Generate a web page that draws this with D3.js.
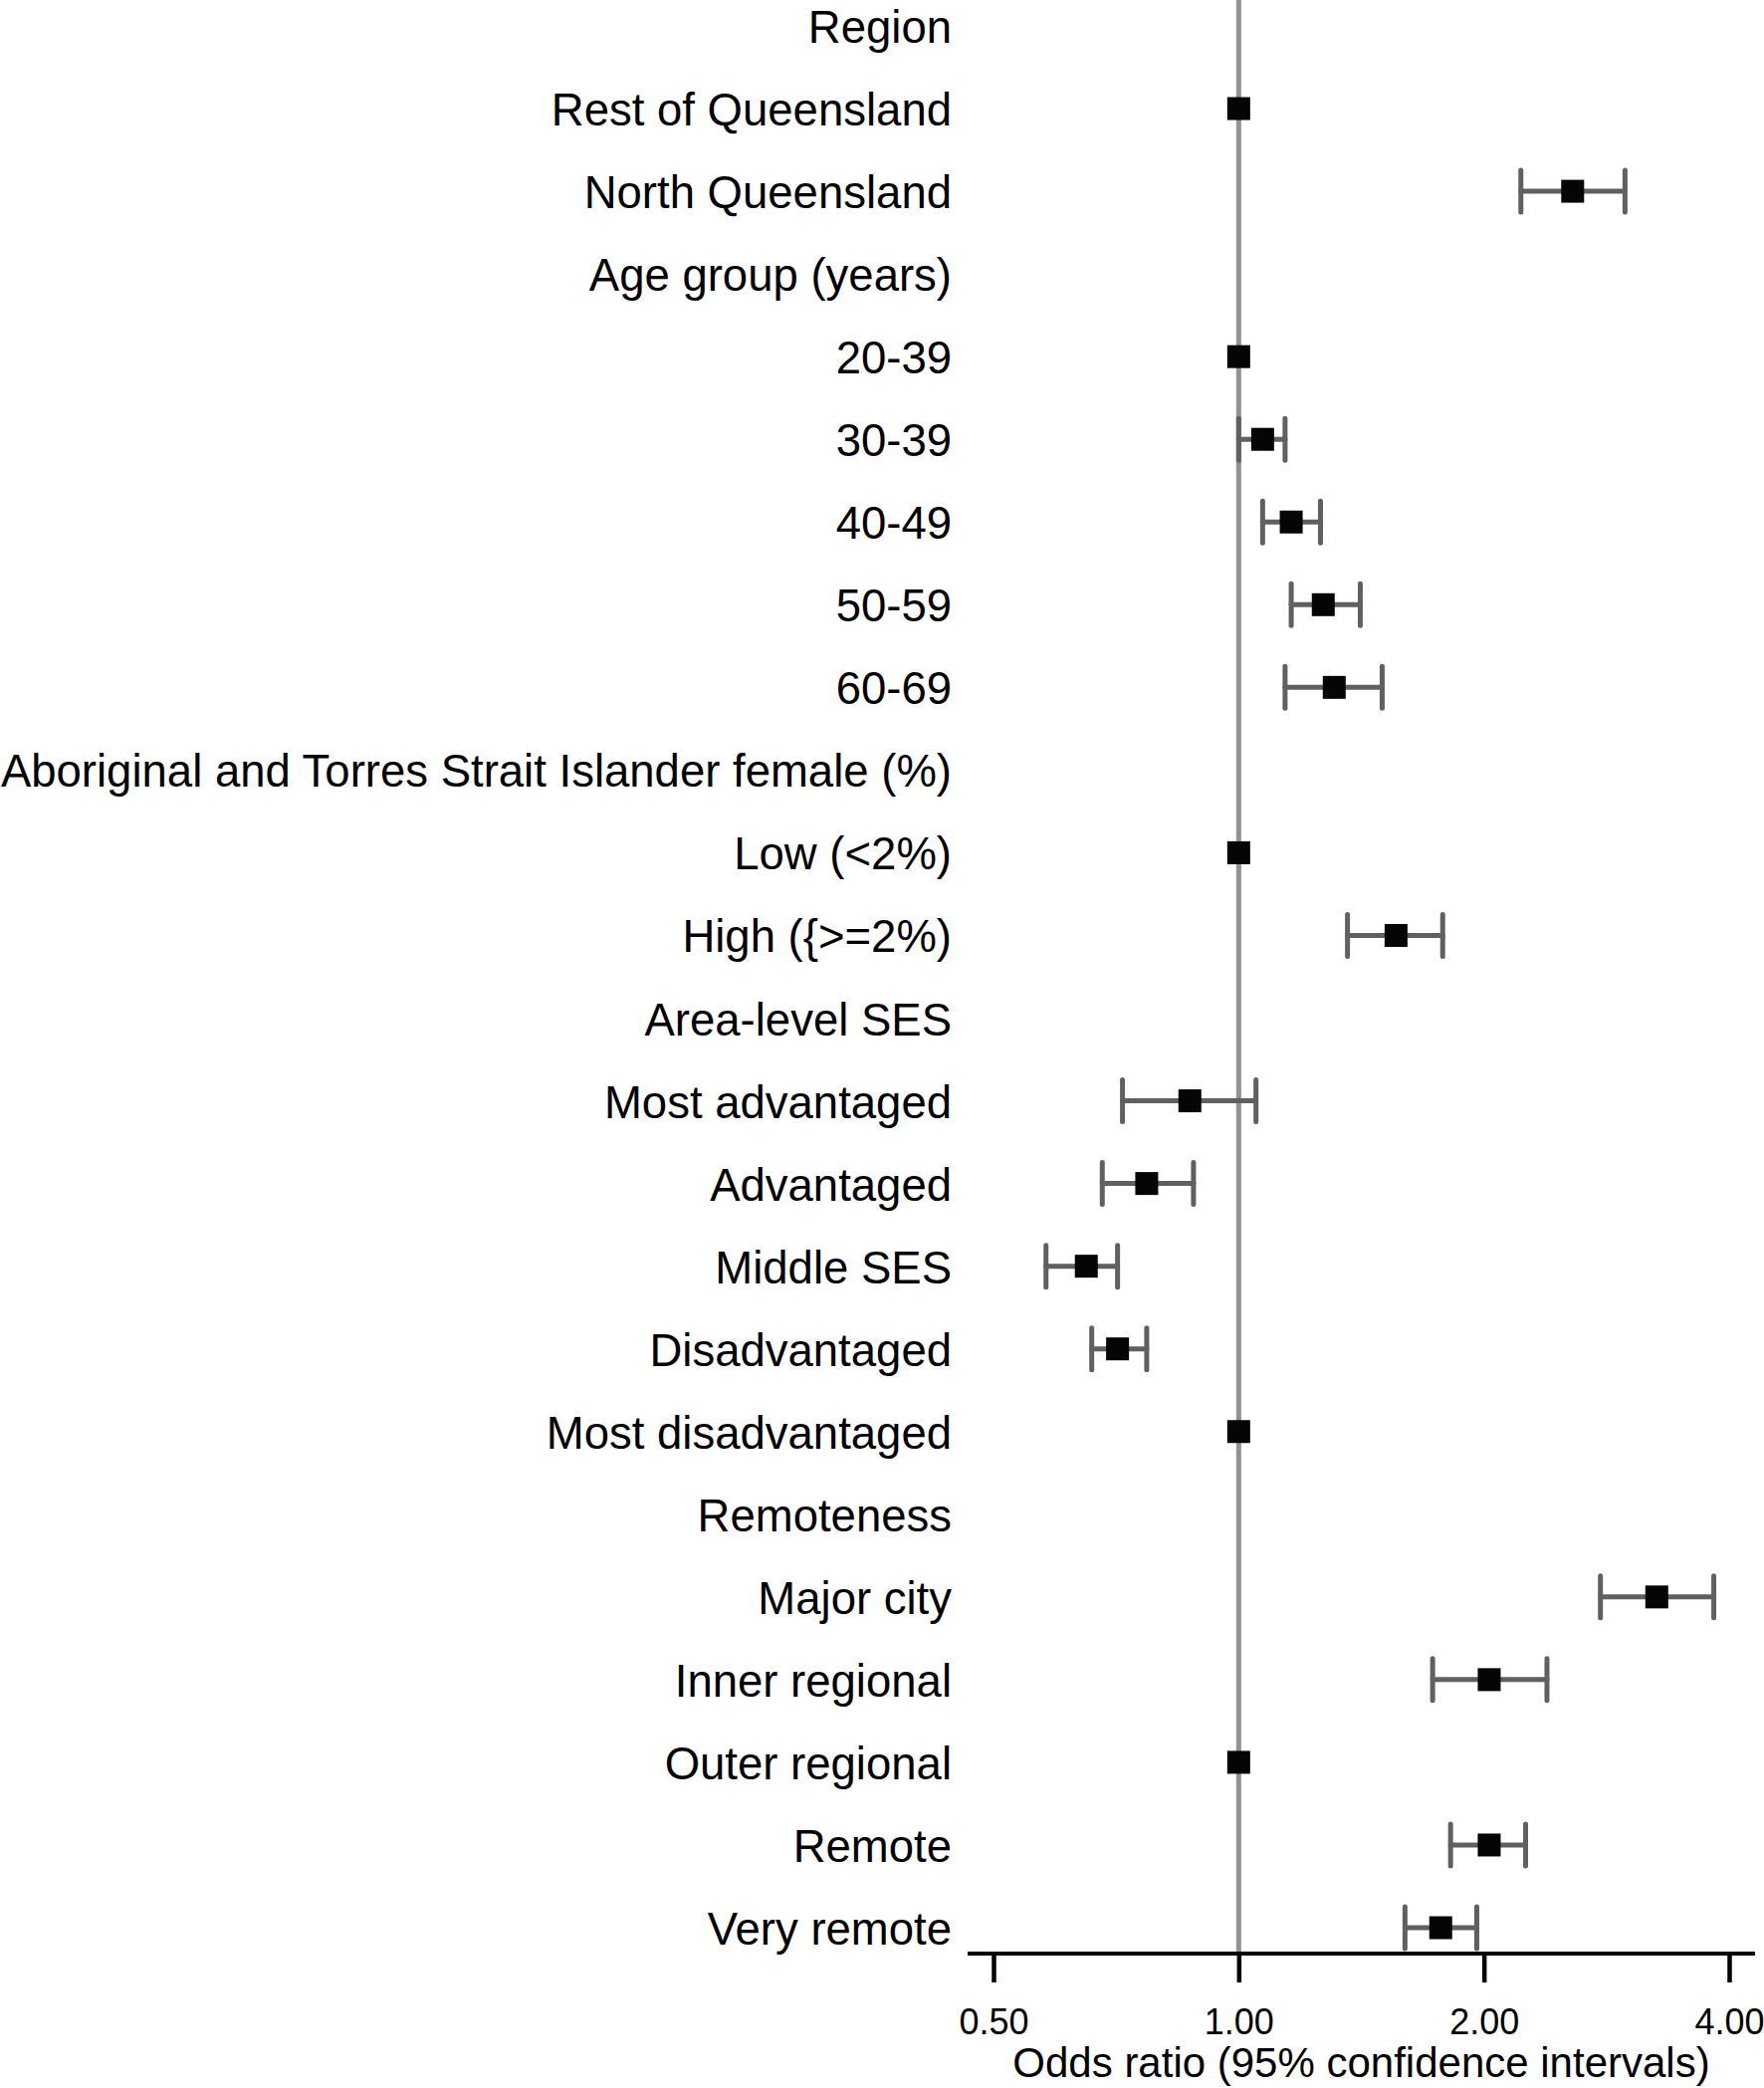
<!DOCTYPE html>
<html lang="en">
<head>
    <meta charset="UTF-8">
    <title>Odds ratio forest plot</title>
    <script src="https://d3js.org/d3.v7.min.js"></script>
    <style>
        body { margin: 0; background: #fff; }
        svg { display: block; font-family: "Liberation Sans", Arial, sans-serif; }
    </style>
</head>
<body>
    <svg width="1772" height="2097"></svg>
    <script>
        // rows from top to bottom; headers have no estimate
        const labels = [
            "Region", "Rest of Queensland", "North Queensland",
            "Age group (years)", "20-39", "30-39", "40-49", "50-59", "60-69",
            "Aboriginal and Torres Strait Islander female (%)", "Low (<2%)", "High ({>=2%)",
            "Area-level SES", "Most advantaged", "Advantaged", "Middle SES", "Disadvantaged", "Most disadvantaged",
            "Remoteness", "Major city", "Inner regional", "Outer regional", "Remote", "Very remote"
        ];
        const oddsRatio = [
            null, 1, 2.57,
            null, 1, 1.07, 1.16, 1.27, 1.31,
            null, 1, 1.56,
            null, 0.871, 0.771, 0.650, 0.710, 1,
            null, 3.26, 2.03, 1, 2.03, 1.77
        ];
        const ciLow = [
            null, null, 2.22,
            null, null, 1.00, 1.07, 1.16, 1.14,
            null, null, 1.36,
            null, 0.720, 0.680, 0.580, 0.660, null,
            null, 2.78, 1.73, null, 1.82, 1.60
        ];
        const ciHigh = [
            null, null, 2.98,
            null, null, 1.14, 1.26, 1.41, 1.50,
            null, null, 1.78,
            null, 1.05, 0.880, 0.710, 0.771, null,
            null, 3.83, 2.39, null, 2.25, 1.96
        ];
        const tickValues = [0.5, 1, 2, 4];
        const axisTitle = "Odds ratio (95% confidence intervals)";

        const svg = d3.select("svg");

        const rows = labels.map((label, i) => ({
            label, or: oddsRatio[i], lo: ciLow[i], hi: ciHigh[i]
        }));

        const x = d3.scaleLog().domain([0.5, 4]).range([998, 1737]);
        const y = d3.scalePoint().domain(labels).range([26, 1936]);
        const axisY = 1962;

        // reference line at OR = 1
        svg.append("line")
            .attr("x1", x(1)).attr("x2", x(1))
            .attr("y1", 0).attr("y2", axisY)
            .attr("stroke", "#929292")
            .attr("stroke-width", 5);

        // row labels
        svg.append("g")
            .selectAll("text")
            .data(rows)
            .join("text")
            .attr("x", 956)
            .attr("y", d => y(d.label) + 17)
            .attr("text-anchor", "end")
            .attr("font-size", 45.5)
            .attr("fill", "#000")
            .text(d => d.label);

        // confidence intervals
        const ci = svg.append("g")
            .attr("stroke", "#606060")
            .attr("stroke-width", 5)
            .attr("stroke-linecap", "round")
            .selectAll("g")
            .data(rows.filter(d => d.lo != null))
            .join("g");

        ci.append("line")
            .attr("x1", d => x(d.lo)).attr("x2", d => x(d.hi))
            .attr("y1", d => y(d.label)).attr("y2", d => y(d.label));
        ci.append("line")
            .attr("x1", d => x(d.lo)).attr("x2", d => x(d.lo))
            .attr("y1", d => y(d.label) - 21).attr("y2", d => y(d.label) + 21);
        ci.append("line")
            .attr("x1", d => x(d.hi)).attr("x2", d => x(d.hi))
            .attr("y1", d => y(d.label) - 21).attr("y2", d => y(d.label) + 21);

        // point estimates
        svg.append("g")
            .selectAll("rect")
            .data(rows.filter(d => d.or != null))
            .join("rect")
            .attr("x", d => x(d.or) - 11.5)
            .attr("y", d => y(d.label) - 11.5)
            .attr("width", 23)
            .attr("height", 23)
            .attr("fill", "#050505");

        // x axis
        const xAxis = d3.axisBottom(x)
            .tickValues(tickValues)
            .tickFormat(d3.format(".2f"))
            .tickSize(29)
            .tickPadding(26);

        const axisG = svg.append("g")
            .attr("transform", `translate(0,${axisY})`)
            .call(xAxis);
        axisG.select(".domain").remove();
        axisG.selectAll(".tick line").attr("stroke", "#000").attr("stroke-width", 4.5);
        axisG.selectAll(".tick text")
            .attr("font-size", 36)
            .attr("font-family", "Liberation Sans, Arial, sans-serif")
            .attr("fill", "#000");
        axisG.append("line")
            .attr("x1", x.range()[0] - 26).attr("x2", x.range()[1] + 26)
            .attr("y1", 0).attr("y2", 0)
            .attr("stroke", "#000")
            .attr("stroke-width", 4);

        svg.append("text")
            .attr("x", (x.range()[0] + x.range()[1]) / 2)
            .attr("y", 2086)
            .attr("text-anchor", "middle")
            .attr("font-size", 42)
            .attr("fill", "#000")
            .text(axisTitle);
    </script>
</body>
</html>
